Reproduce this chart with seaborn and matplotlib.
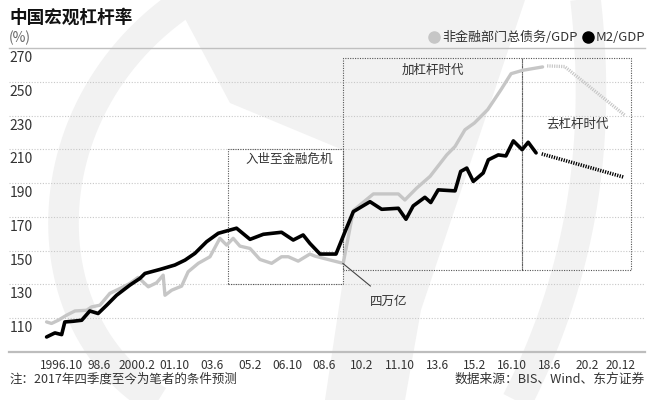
import matplotlib
matplotlib.use("Agg")
import numpy as np
import pandas as pd
import matplotlib.pyplot as plt
import seaborn as sns
from matplotlib.lines import Line2D
from matplotlib.patches import Rectangle, Polygon

# M2/GDP (black line), decimal year vs %
m2_year = [1996.11, 1996.48, 1996.78, 1996.92, 1997.29, 1997.67, 1998.03, 1998.40, 1998.78, 1999.22,
           1999.81, 2000.26, 2000.48, 2001.15, 2001.81, 2002.26, 2002.70, 2003.22, 2003.74, 2004.55,
           2005.15, 2005.74, 2006.55, 2007.07, 2007.51, 2007.81, 2008.26, 2008.97, 2009.37, 2009.74,
           2010.48, 2011.00, 2011.74, 2012.08, 2012.40, 2012.92, 2013.18, 2013.51, 2014.26, 2014.51,
           2014.78, 2015.07, 2015.51, 2015.74, 2016.18, 2016.52, 2016.85, 2017.24, 2017.51, 2017.86]
m2_val = [98.9, 101.3, 100.3, 107.8, 108.2, 108.8, 114.3, 112.8, 117.7, 123.6,
          129.6, 133.6, 136.5, 138.9, 141.5, 144.4, 148.4, 155.3, 160.3, 163.3,
          156.7, 159.7, 160.9, 156.3, 159.3, 154.3, 148.0, 148.0, 161.2, 173.1,
          179.0, 174.5, 175.1, 168.6, 176.5, 181.6, 178.5, 186.0, 185.4, 196.9,
          198.9, 191.0, 196.0, 203.8, 206.7, 206.1, 215.0, 209.8, 214.2, 207.9]

# 非金融部门总债务/GDP (gray line)
debt_year = [1996.11, 1996.33, 1996.63, 1997.00, 1997.37, 1997.89, 1998.11, 1998.48, 1998.92, 1999.37,
             1999.81, 2000.18, 2000.63, 2001.00, 2001.29, 2001.37, 2001.67, 2002.11, 2002.40, 2002.85,
             2003.37, 2003.81, 2004.11, 2004.40, 2004.70, 2005.15, 2005.59, 2006.11, 2006.55, 2006.85,
             2007.29, 2007.81, 2008.03, 2008.55, 2009.29, 2009.74, 2010.63, 2011.74, 2012.03, 2012.55,
             2013.15, 2013.89, 2014.26, 2014.70, 2015.12, 2015.71, 2016.30, 2016.75, 2017.27, 2018.15]
debt_val = [107.8, 106.9, 108.8, 111.8, 114.3, 114.7, 116.7, 117.7, 124.7, 127.6,
            130.6, 134.2, 128.6, 131.0, 135.5, 123.6, 126.6, 129.0, 137.5, 142.5,
            146.4, 157.3, 153.3, 157.3, 152.7, 151.3, 144.8, 142.5, 146.4, 146.4,
            143.8, 148.0, 146.8, 145.0, 142.5, 173.8, 183.6, 183.6, 180.0, 187.0,
            194.0, 206.7, 211.7, 221.6, 225.6, 233.5, 245.3, 254.8, 256.8, 258.8]

# forecasts (dotted)
m2_fc_year = [2018.11, 2021.74]
m2_fc_val = [207.3, 193.6]
debt_fc_year = [2018.35, 2019.13, 2021.80]
debt_fc_val = [259.4, 259.0, 230.2]

# x tick labels
tick_labels = ["1996.10", "98.6", "2000.2", "01.10", "03.6", "05.2", "06.10", "08.6",
               "10.2", "11.10", "13.6", "15.2", "16.10", "18.6", "20.2", "20.12"]
tick_pos = [1996.79, 1998.46, 2000.13, 2001.79, 2003.46, 2005.13, 2006.79, 2008.46,
            2010.13, 2011.79, 2013.46, 2015.13, 2016.79, 2018.46, 2020.13, 2021.60]
y_ticks = [110, 130, 150, 170, 190, 210, 230, 250, 270]

# shaded periods: (start, end, low, high, label, label_x, label_y)
periods = [
    (2004.15, 2009.27, 130.5, 210.2, "入世至金融危机", 2006.90, 203.8),
    (2009.27, 2017.22, 138.3, 264.2, "加杠杆时代", 2013.28, 256.6),
    (2017.22, 2022.10, 138.3, 264.2, "去杠杆时代", 2019.72, 224.5),
]

GRAY = "#c6c6c6"
TXT = "#333333"

sns.set_style("white")
plt.rcParams['font.family'] = ['Noto Sans CJK SC', 'DejaVu Sans']

W, H = 663, 400
fig = plt.figure(figsize=(W / 100, H / 100), dpi=100)
fig.patch.set_facecolor("white")


def to_fig(pts):
    return [(x / W, 1 - y / H) for x, y in pts]


def bezier(p0, p1, p2, p3, n=60):
    t = np.linspace(0, 1, n)[:, None]
    p0, p1, p2, p3 = map(np.array, (p0, p1, p2, p3))
    pts = (1 - t) ** 3 * p0 + 3 * (1 - t) ** 2 * t * p1 + 3 * (1 - t) * t ** 2 * p2 + t ** 3 * p3
    return [tuple(p) for p in pts]


# faint background watermark
WM = "#f2f2f2"
for curve in [bezier((195, -5), (25, 100), (25, 330), (165, 405)),
              bezier((585, -5), (600, 120), (590, 260), (515, 405))]:
    xy = np.array(to_fig(curve))
    fig.add_artist(Line2D(xy[:, 0], xy[:, 1], color=WM, lw=22, solid_capstyle="butt", zorder=0))
fig.add_artist(Polygon(to_fig([(175, 0), (525, 0), (421, 310), (405, 400), (325, 400),
                               (343, 280), (343, 150), (230, 103)]),
                       closed=True, facecolor=WM, edgecolor="none", zorder=0))

ax = fig.add_axes([9 / W, 48 / H, 636 / W, 304 / H])
ax.set_facecolor("none")

x_left, x_right = 1994.44, 2022.70
ax.set_xlim(x_left, x_right)
ax.set_ylim(90, 270)

# grid lines
for v in y_ticks[:-1]:
    ax.axhline(v, color="#c8c8c8", lw=0.8, ls=(0, (1, 1.5)), zorder=1)
for v in y_ticks:
    ax.text(x_left + 0.02, v - 1.8, str(v), ha="left", va="top", fontsize=10, color=TXT)

# period boxes
for x0, x1, lo, hi, label, lx, ly in periods:
    ax.add_patch(Rectangle((x0, lo), x1 - x0, hi - lo, fill=False, edgecolor="#555555",
                           lw=0.8, ls=(0, (1, 1.2)), zorder=2))
    ax.text(lx, ly, label, ha="center", va="center", fontsize=9, color=TXT, zorder=5)

# lines
sns.lineplot(x=debt_year, y=debt_val, ax=ax, color=GRAY, lw=2.4, sort=False, estimator=None, zorder=3)
sns.lineplot(x=m2_year, y=m2_val, ax=ax, color="black", lw=2.6, sort=False, estimator=None, zorder=4)
sns.lineplot(x=debt_fc_year, y=debt_fc_val, ax=ax, color=GRAY, lw=2.4, sort=False,
             estimator=None, zorder=3, linestyle=(0, (0.35, 0.35)))
sns.lineplot(x=m2_fc_year, y=m2_fc_val, ax=ax, color="black", lw=2.6, sort=False,
             estimator=None, zorder=4, linestyle=(0, (0.35, 0.35)))

# 四万亿 annotation
ax.annotate("四万亿", xy=(2009.27, 142.5), xytext=(2011.32, 120.1), ha="center", va="center",
            fontsize=9, color=TXT,
            arrowprops=dict(arrowstyle="-", color="#444444", lw=0.8, shrinkA=6, shrinkB=0))

# axes styling
sns.despine(ax=ax, left=True, right=True)
ax.spines["top"].set_visible(True)
ax.spines["top"].set_color("#c0c0c0")
ax.spines["top"].set_linewidth(1.0)
ax.spines["bottom"].set_color("#bdbdbd")
ax.spines["bottom"].set_linewidth(1.6)
ax.set_yticks([])
ax.set_xticks(tick_pos)
ax.set_xticklabels(tick_labels, fontsize=8.6, color=TXT)
ax.tick_params(axis="x", length=0, pad=5)
ax.set_xlabel("")
ax.set_ylabel("")

# legend
handles = [Line2D([], [], marker="o", ls="", color=GRAY, markersize=8),
           Line2D([], [], marker="o", ls="", color="black", markersize=8)]
leg = fig.legend(handles, ["非金融部门总债务/GDP", "M2/GDP"], loc="center right",
                 bbox_to_anchor=(645 / W, 1 - 37.5 / H), ncol=2, frameon=False,
                 fontsize=9.4, handlelength=0.7, handletextpad=0.25, columnspacing=0.4,
                 borderpad=0, borderaxespad=0, labelcolor=TXT)

# titles and notes
fig.text(9 / W, 1 - 18 / H, "中国宏观杠杆率", fontsize=12.7, fontweight="bold", color="#111111",
         ha="left", va="center")
fig.text(9 / W, 1 - 37.5 / H, "(%)", fontsize=10, color="#666666", ha="left", va="center")
fig.text(9 / W, 1 - 379 / H, "注：2017年四季度至今为笔者的条件预测", fontsize=9, color=TXT,
         ha="left", va="center")
fig.text(645 / W, 1 - 379 / H, "数据来源：BIS、Wind、东方证券", fontsize=9.2, color=TXT,
         ha="right", va="center")

fig.savefig("out.png", dpi=100, facecolor="white")
